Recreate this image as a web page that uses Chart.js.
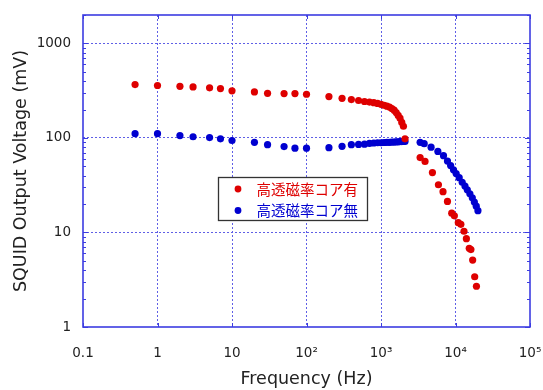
<!DOCTYPE html>
<html>
<head>
<meta charset="utf-8">
<script src="https://cdn.jsdelivr.net/npm/chart.js@4.4.1/dist/chart.umd.min.js"></script>
<style>
  html, body { margin: 0; padding: 0; background: #fff; }
  #wrap { width: 543px; height: 390px; }
</style>
</head>
<body>
<div id="wrap"><canvas id="squidChart" width="543" height="390"></canvas></div>
<script>
// Frequency (Hz) and SQUID output (mV)
const lowFreq = [0.5, 1, 2, 3, 5, 7, 10, 20, 30, 50, 70, 100,
                 200, 300, 400, 500,
                 600, 700, 800, 900, 1000, 1100, 1200, 1300, 1400, 1500, 1600, 1700, 1800, 1900, 2000, 2100];
const coreOnLow = [367, 359, 352, 347, 339, 333, 315, 307, 297, 295, 295, 290,
                   274, 263, 255, 249,
                   243, 240, 236, 232, 227, 222, 217, 212, 205, 197, 186, 173, 162, 146, 133, 98];
const coreOffLow = [111, 111, 106, 103, 101, 98, 94, 90, 85, 81, 78, 78,
                    79, 81.5, 85, 85.5,
                    86, 87.5, 88.5, 89, 89, 89.5, 90, 90, 90.5, 90.5, 91, 91, 91.5, 91.5, 92, 92];

const coreOnHighFreq = [3350, 3900, 4900, 5900, 6800, 7800, 8900, 9650, 10900, 11800, 13000, 14000, 15300, 16100, 17000, 18100, 19100];
const coreOnHigh = [62, 56.5, 43, 32, 27, 21.3, 16, 15, 12.7, 12.2, 10.3, 8.6, 6.8, 6.6, 5.1, 3.4, 2.7];
const coreOffHighFreq = [3350, 3800, 4700, 5800, 6900, 7800, 8600, 9400, 10200, 11200, 12300, 13400, 14400, 15600, 16800, 17900, 19000, 20000];
const coreOffHigh = [90, 87, 80, 72, 65, 57, 51, 46, 42, 38, 34, 31, 28.3, 25.7, 23.3, 21, 19, 17];

const seriesLabels = ['高透磁率コア有', '高透磁率コア無'];

const xTickValues = [0.1, 1, 10, 100, 1000, 10000, 100000];
const xTickLabels = ['0.1', '1', '10', '10²', '10³', '10⁴', '10⁵'];
const yTickValues = [1, 10, 100, 1000];
const yTickLabels = ['1', '10', '100', '1000'];

const RED = 'rgb(222, 0, 0)';
const BLUE = 'rgb(0, 0, 208)';
const FRAME = 'rgb(60, 60, 225)';
const GRID = 'rgb(95, 95, 230)';
const TEXT = '#222';
const FONT = "'DejaVu Sans', Verdana, sans-serif";

function toPoints(xs, ys) {
    return xs.map((f, i) => ({ x: f, y: ys[i] }));
}

// don't let tick labels push the plot area in; layout padding decides it
function noLabelPadding(s) {
    s.paddingLeft = 0;
    s.paddingRight = 0;
    s.paddingTop = 0;
    s.paddingBottom = 0;
}

// frame, minor ticks on y and inward decade ticks on x
const frameAndTicks = {
    id: 'frameAndTicks',
    afterDatasetsDraw(chart) {
        const { ctx, chartArea: a, scales: { x, y } } = chart;
        ctx.save();
        ctx.strokeStyle = FRAME;
        ctx.lineWidth = 1;
        ctx.beginPath();
        for (let d = 0; d < 4; d++) {
            for (let k = 2; k <= 9; k++) {
                const v = k * Math.pow(10, d);
                if (v > y.max) break;
                const py = Math.round(y.getPixelForValue(v)) + 0.5;
                ctx.moveTo(a.left, py); ctx.lineTo(a.left + 3, py);
                ctx.moveTo(a.right, py); ctx.lineTo(a.right - 3, py);
            }
        }
        xTickValues.forEach(v => {
            const px = Math.round(x.getPixelForValue(v)) + 0.5;
            ctx.moveTo(px, a.bottom); ctx.lineTo(px, a.bottom - 4);
            ctx.moveTo(px, a.top); ctx.lineTo(px, a.top + 4);
        });
        yTickValues.forEach(v => {
            const py = Math.round(y.getPixelForValue(v)) + 0.5;
            ctx.moveTo(a.left, py); ctx.lineTo(a.left + 5, py);
            ctx.moveTo(a.right, py); ctx.lineTo(a.right - 5, py);
        });
        ctx.stroke();
        ctx.lineWidth = 1.6;
        ctx.strokeRect(a.left, a.top, a.width, a.height);
        ctx.restore();
    }
};

// boxed legend sitting inside the plot
const boxLegend = {
    id: 'boxLegend',
    afterDraw(chart) {
        const ctx = chart.ctx;
        const box = { x: 218.5, y: 177.5, w: 149, h: 43 };
        ctx.save();
        ctx.fillStyle = '#fff';
        ctx.fillRect(box.x, box.y, box.w, box.h);
        ctx.strokeStyle = '#333';
        ctx.lineWidth = 1.3;
        ctx.strokeRect(box.x, box.y, box.w, box.h);
        ctx.font = "14.5px 'Noto Sans CJK JP', sans-serif";
        ctx.textBaseline = 'middle';
        chart.data.datasets.forEach((ds, i) => {
            const cy = box.y + 11.5 + i * 21.5;
            ctx.fillStyle = ds.backgroundColor;
            ctx.beginPath();
            ctx.arc(box.x + 19.5, cy, 3.4, 0, Math.PI * 2);
            ctx.fill();
            ctx.fillText(ds.label, box.x + 38, cy);
        });
        ctx.restore();
    }
};

new Chart(document.getElementById('squidChart'), {
    type: 'scatter',
    data: {
        datasets: [
            {
                label: seriesLabels[0],
                data: toPoints(lowFreq.concat(coreOnHighFreq), coreOnLow.concat(coreOnHigh)),
                backgroundColor: RED,
                borderWidth: 0,
                pointRadius: 3.6
            },
            {
                label: seriesLabels[1],
                data: toPoints(lowFreq.concat(coreOffHighFreq), coreOffLow.concat(coreOffHigh)),
                backgroundColor: BLUE,
                borderWidth: 0,
                pointRadius: 3.6
            }
        ]
    },
    options: {
        responsive: false,
        animation: false,
        layout: { padding: { top: 15, right: 13, left: 0, bottom: 0 } },
        plugins: {
            legend: { display: false },
            tooltip: { enabled: false }
        },
        scales: {
            x: {
                type: 'logarithmic',
                min: 0.1,
                max: 100000,
                afterBuildTicks: s => { s.ticks = xTickValues.map(v => ({ value: v })); },
                afterFit: s => { s.height = 63; noLabelPadding(s); },
                ticks: {
                    autoSkip: false,
                    maxRotation: 0,
                    padding: 18,
                    color: TEXT,
                    font: { family: FONT, size: 13.5 },
                    callback: (v, i) => xTickLabels[i]
                },
                grid: {
                    drawTicks: false,
                    lineWidth: 1,
                    color: c => (c.index > 0 && c.index < xTickValues.length - 1) ? GRID : 'transparent'
                },
                border: { display: false, dash: [2, 2] },
                title: {
                    display: true,
                    text: 'Frequency (Hz)',
                    color: TEXT,
                    font: { family: FONT, size: 17.5 },
                    padding: { top: 0, bottom: 0 }
                }
            },
            y: {
                type: 'logarithmic',
                min: 1,
                max: 2000,
                afterBuildTicks: s => { s.ticks = yTickValues.map(v => ({ value: v })); },
                afterFit: s => { s.width = 83; noLabelPadding(s); },
                ticks: {
                    padding: 12,
                    color: TEXT,
                    font: { family: FONT, size: 13.5 },
                    callback: (v, i) => yTickLabels[i]
                },
                grid: {
                    drawTicks: false,
                    lineWidth: 1,
                    color: c => c.index > 0 ? GRID : 'transparent'
                },
                border: { display: false, dash: [2, 2] },
                title: {
                    display: true,
                    text: 'SQUID Output Voltage (mV)',
                    color: TEXT,
                    font: { family: FONT, size: 17.5 },
                    padding: { top: 11, bottom: 0 }
                }
            }
        }
    },
    plugins: [frameAndTicks, boxLegend]
});
</script>
</body>
</html>
